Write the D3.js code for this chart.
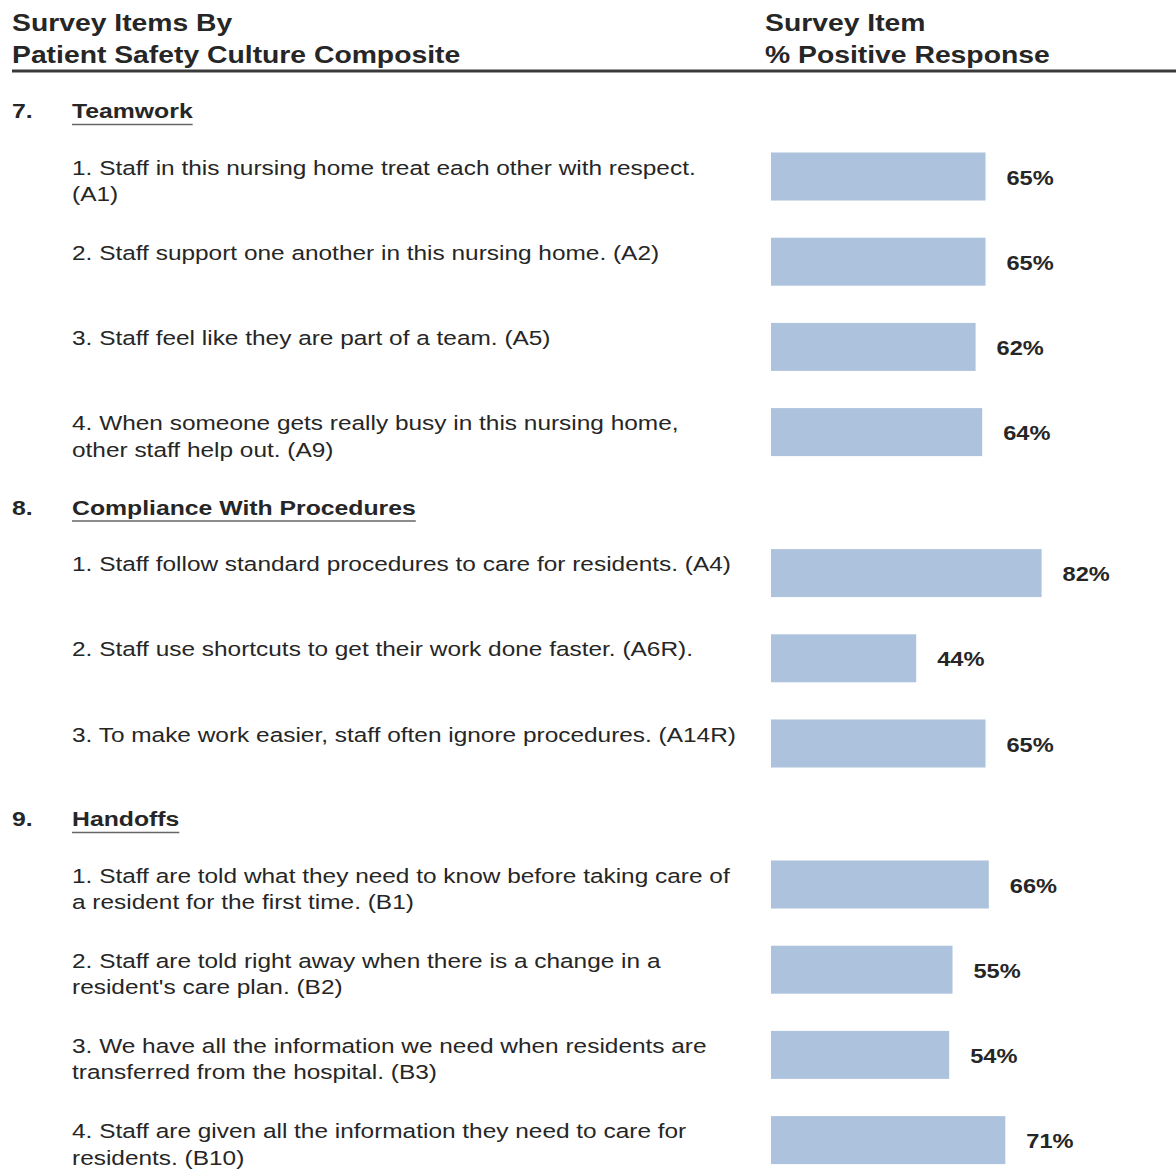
<!DOCTYPE html>
<html>
<head>
<meta charset="utf-8">
<script src="https://cdn.jsdelivr.net/npm/d3@7"></script>
<style>
  html, body { margin: 0; padding: 0; background: #fff; }
  svg { display: block; font-family: "Liberation Sans", Arial, sans-serif; }
</style>
</head>
<body>
<script>
// Composite sections and their numbering
const sectionNumbers = ["7.", "8.", "9."];
const sectionTitles = ["Teamwork", "Compliance With Procedures", "Handoffs"];

// Survey items per section (text lines as printed)
const teamworkItems = [
  ["1. Staff in this nursing home treat each other with respect.", "(A1)"],
  ["2. Staff support one another in this nursing home. (A2)"],
  ["3. Staff feel like they are part of a team. (A5)"],
  ["4. When someone gets really busy in this nursing home,", "other staff help out. (A9)"]
];
const complianceItems = [
  ["1. Staff follow standard procedures to care for residents. (A4)"],
  ["2. Staff use shortcuts to get their work done faster. (A6R)."],
  ["3. To make work easier, staff often ignore procedures. (A14R)"]
];
const handoffItems = [
  ["1. Staff are told what they need to know before taking care of", "a resident for the first time. (B1)"],
  ["2. Staff are told right away when there is a change in a", "resident's care plan. (B2)"],
  ["3. We have all the information we need when residents are", "transferred from the hospital. (B3)"],
  ["4. Staff are given all the information they need to care for", "residents. (B10)"]
];

// % positive response per item
const teamworkValues = [65, 65, 62, 64];
const complianceValues = [82, 44, 65];
const handoffValues = [66, 55, 54, 71];

// Column headings
const leftHeading = ["Survey Items By", "Patient Safety Culture Composite"];
const rightHeading = ["Survey Item", "% Positive Response"];

const width = 1176, height = 1169;
const textColor = "#262626";
const barColor = "#adc2dc";
const sx = 1.18; // horizontal stretch of the report typeface

const sections = [
  { num: sectionNumbers[0], title: sectionTitles[0], items: teamworkItems, values: teamworkValues },
  { num: sectionNumbers[1], title: sectionTitles[1], items: complianceItems, values: complianceValues },
  { num: sectionNumbers[2], title: sectionTitles[2], items: handoffItems, values: handoffValues }
];

const svg = d3.select("body").append("svg")
  .attr("width", width).attr("height", height);

// Horizontal scale for the bars (percent)
const x = d3.scaleLinear().domain([0, 100]).range([771, 1101]);

// Vertical layout: section heading, then evenly spaced item rows
const rowPitch = 85.2, headToBar = 65.5, barToHead = 75.5, barH = 48;
let cursor = 111;
const rows = [], heads = [];
sections.forEach((s) => {
  heads.push({ num: s.num, title: s.title, y: cursor });
  cursor += headToBar;
  s.items.forEach((lines, i) => {
    rows.push({ lines, value: s.values[i], y: cursor });
    if (i < s.items.length - 1) cursor += rowPitch;
  });
  cursor += barToHead;
});

const place = (px, py) => `translate(${px},${py}) scale(${sx},1)`;

// Column headings
const hg = svg.append("g").attr("fill", textColor)
  .attr("font-weight", "bold").attr("font-size", 24);
hg.selectAll("text.lh").data(leftHeading).join("text")
  .attr("class", "lh").attr("transform", (d, i) => place(12, 31 + i * 32)).text(d => d);
hg.selectAll("text.rh").data(rightHeading).join("text")
  .attr("class", "rh").attr("transform", (d, i) => place(765, 31 + i * 32)).text(d => d);

svg.append("line")
  .attr("x1", 12).attr("x2", width).attr("y1", 71).attr("y2", 71)
  .attr("stroke", "#3a3a3a").attr("stroke-width", 3);

// Section headings with underline
const sh = svg.append("g").selectAll("g").data(heads).join("g")
  .attr("transform", d => `translate(0,${d.y})`)
  .attr("fill", textColor).attr("font-weight", "bold").attr("font-size", 21);
sh.append("text").attr("transform", place(12, 0)).attr("dy", "0.35em").text(d => d.num);
sh.append("text").attr("class", "st").attr("transform", place(72, 0)).attr("dy", "0.35em").text(d => d.title);
sh.each(function () {
  const g = d3.select(this);
  const w = g.select("text.st").node().getComputedTextLength() * sx;
  g.append("line").attr("x1", 72).attr("x2", 72 + w)
    .attr("y1", 13.5).attr("y2", 13.5)
    .attr("stroke", "#666").attr("stroke-width", 1.5);
});

// Item rows: wrapped text, bar, value label
const rg = svg.append("g").selectAll("g").data(rows).join("g")
  .attr("transform", d => `translate(0,${d.y})`);

rg.append("text")
  .attr("transform", place(72, 0))
  .attr("fill", textColor).attr("font-size", 20.7)
  .selectAll("tspan").data(d => d.lines).join("tspan")
  .attr("x", 0).attr("y", (d, i) => -2 + i * 26.5).text(d => d);

rg.append("rect")
  .attr("x", x(0)).attr("y", -barH / 2)
  .attr("width", d => x(d.value) - x(0)).attr("height", barH)
  .attr("fill", barColor);

rg.append("text")
  .attr("transform", d => place(x(d.value) + 21, 1))
  .attr("dy", "0.35em")
  .attr("fill", textColor).attr("font-weight", "bold").attr("font-size", 20)
  .text(d => d.value + "%");
</script>
</body>
</html>
